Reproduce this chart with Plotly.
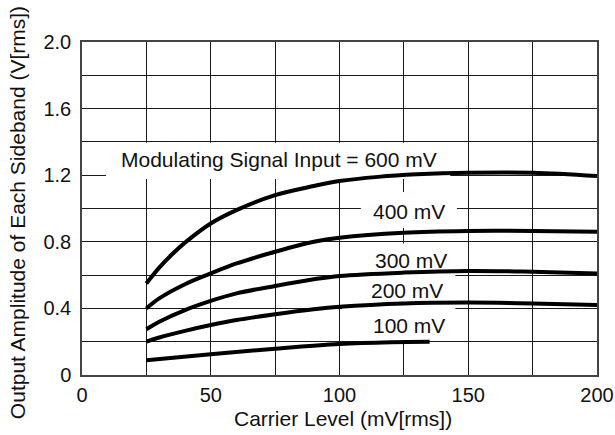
import plotly.graph_objects as go

# ---- data ----
x_600 = [25, 30, 35, 40, 50, 60, 75, 90, 100, 115, 130, 150, 175, 200]
y_600 = [0.55, 0.645, 0.725, 0.795, 0.91, 0.99, 1.08, 1.135, 1.165, 1.19, 1.205, 1.215, 1.215, 1.195]

x_400 = [25, 30, 40, 50, 60, 75, 90, 100, 125, 150, 175, 200]
y_400 = [0.40, 0.46, 0.545, 0.61, 0.67, 0.74, 0.80, 0.825, 0.855, 0.865, 0.865, 0.86]

x_300 = [25, 30, 40, 50, 60, 75, 90, 100, 125, 150, 175, 200]
y_300 = [0.275, 0.32, 0.39, 0.445, 0.49, 0.535, 0.575, 0.595, 0.615, 0.625, 0.62, 0.61]

x_200 = [25, 30, 40, 50, 60, 75, 90, 100, 125, 150, 175, 200]
y_200 = [0.20, 0.225, 0.265, 0.30, 0.33, 0.365, 0.395, 0.41, 0.43, 0.435, 0.43, 0.42]

x_100 = [25, 50, 75, 100, 120, 135]
y_100 = [0.088, 0.125, 0.158, 0.186, 0.197, 0.20]

x_tickvals = [0, 25, 50, 75, 100, 125, 150, 175, 200]
x_ticktext = ["0", "", "50", "", "100", "", "150", "", "200"]
y_tickvals = [0, 0.2, 0.4, 0.6, 0.8, 1.0, 1.2, 1.4, 1.6, 1.8, 2.0]
y_ticktext = ["0", "", "0.4", "", "0.8", "", "1.2", "", "1.6", "", "2.0"]

labels = ["Modulating Signal Input = 600 mV", "400 mV", "300 mV", "200 mV", "100 mV"]
label_x = [76.5, 127, 127.8, 126.2, 127]
label_y = [1.295, 0.982, 0.688, 0.51, 0.296]

x_title = "Carrier Level (mV[rms])"
y_title = "Output Amplitude of Each Sideband (V[rms])"

FONT = "Liberation Sans, Arial, sans-serif"

fig = go.Figure()
for xs, ys in [(x_600, y_600), (x_400, y_400), (x_300, y_300), (x_200, y_200), (x_100, y_100)]:
    fig.add_trace(go.Scatter(x=xs, y=ys, mode="lines",
                             line=dict(color="black", width=4, shape="spline"),
                             showlegend=False, hoverinfo="skip"))

# white masking boxes behind the labels (hide gridlines, stay under curves)
boxes = [(9.3, 143, 1.177, 1.395), (108.3, 145.6, 0.883, 1.099), (101, 145, 0.205, 0.79)]
for x0, x1, y0, y1 in boxes:
    fig.add_shape(type="rect", xref="x", yref="y", x0=x0, x1=x1, y0=y0, y1=y1,
                  fillcolor="white", line=dict(width=0), layer="between")

for t, lx, ly in zip(labels, label_x, label_y):
    fig.add_annotation(x=lx, y=ly, text=t, showarrow=False, xref="x", yref="y",
                       font=dict(family=FONT, size=21, color="#111"))

# axis titles
fig.add_annotation(x=0.5068, y=-0.132, xref="paper", yref="paper", text=x_title,
                   showarrow=False, xanchor="center", yanchor="middle",
                   font=dict(family=FONT, size=21, color="#111"))
fig.add_annotation(x=-0.124, y=0.4865, xref="paper", yref="paper", text=y_title,
                   showarrow=False, xanchor="center", yanchor="middle", textangle=-90,
                   font=dict(family=FONT, size=21, color="#111"))

axis_common = dict(showgrid=True, gridcolor="#1a1a1a", gridwidth=1.1,
                   showline=True, linecolor="#444", linewidth=1.5, mirror=True,
                   ticks="", zeroline=False, automargin=False,
                   tickfont=dict(family=FONT, size=20, color="#111"))

fig.update_xaxes(range=[0, 200], tickmode="array", tickvals=x_tickvals, ticktext=x_ticktext,
                 ticklabelstandoff=1, **axis_common)
fig.update_yaxes(range=[0, 2.0], tickmode="array", tickvals=y_tickvals, ticktext=y_ticktext,
                 ticklabelstandoff=5, **axis_common)

fig.update_layout(width=615, height=435, margin=dict(l=82, r=18, t=42, b=60),
                  plot_bgcolor="white", paper_bgcolor="white")

fig.write_html("out.html", config={"displayModeBar": False},
               post_script="document.body.style.margin='0';document.body.style.overflow='hidden';")
